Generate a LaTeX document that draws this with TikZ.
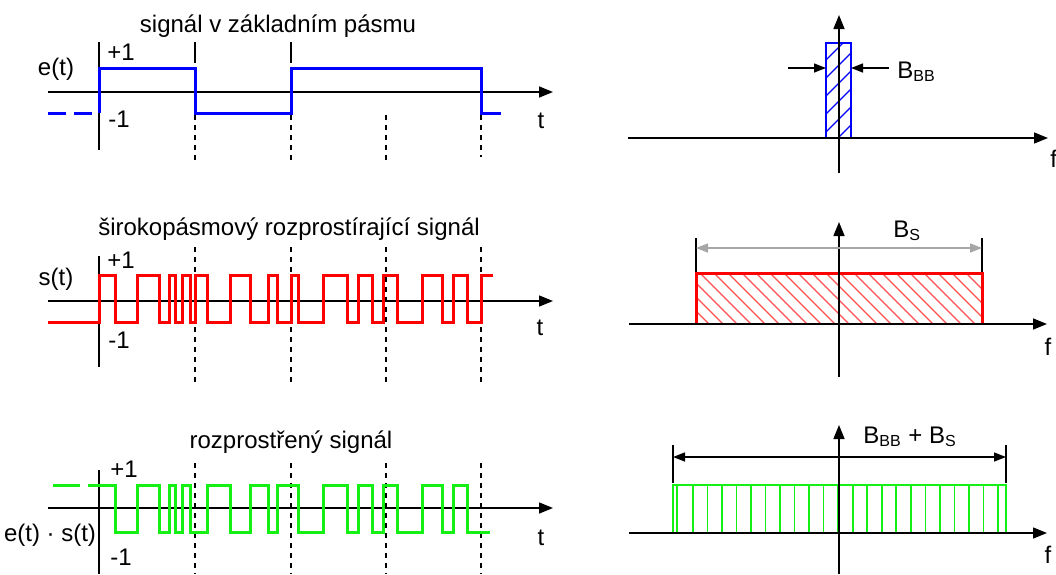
\documentclass[tikz,border=0pt]{standalone}
\usepackage{fontspec}
\setmainfont{Liberation Sans}
\usetikzlibrary{arrows.meta}

\definecolor{sigblue}{RGB}{0,0,255}
\definecolor{sigred}{RGB}{255,0,0}
\definecolor{siggreen}{RGB}{20,240,20}
\definecolor{hatchred}{RGB}{255,80,80}

\tikzset{
  axis/.style={line width=0.75pt, -{Triangle[length=7pt,width=5.5pt]}},
  dimline/.style={line width=0.7pt, {Triangle[length=6pt,width=4.5pt]}-{Triangle[length=6pt,width=4.5pt]}},
  dimarrow/.style={line width=0.7pt, -{Triangle[length=6pt,width=4.5pt]}},
  gridline/.style={line width=0.6pt, dash pattern=on 2.5pt off 2.5pt},
  wave/.style={line width=1.5pt, line join=miter},
  lbl/.style={inner sep=0pt, anchor=base, font=\fontsize{12}{14}\selectfont},
  lblw/.style={lbl, anchor=base west},
}

\begin{document}
\begin{tikzpicture}[x=0.5pt, y=-0.5pt]
    \useasboundingbox (0,0) rectangle (1056,574);

    % signal in base band
    \node[lbl] (title1) at (278,32) {signál v základním pásmu};
    \node[lbl] (et) at (56,75) {e(t)};
    \node[lblw] (p1a) at (107,60) {+1};
    \node[lblw] (m1a) at (108,127) {-1};
    \node[lbl] (ta) at (541,128) {t};
    \draw[axis] (48,92) -- (553,92);
    \draw[line width=0.75pt] (99,42) -- (99,150);
    \draw[line width=0.75pt] (195,42) -- (195,63);
    \draw[line width=0.75pt] (291,42) -- (291,63);
    \foreach \x/\yb in {195/163, 291/163, 386/163, 481/157}
        \draw[gridline] (\x,115) -- (\x,\yb);
    \draw[sigblue, wave, dash pattern=on 9pt off 4pt] (48,113) -- (99,113);
    \draw[sigblue, wave] (99,113) -- (99,68) -- (195,68) -- (195,113) -- (291,113)
        -- (291,68) -- (481,68) -- (481,113) -- (501,113);

    % spreading signal
    \node[lbl] (title2) at (289,235) {širokopásmový rozprostírající signál};
    \node[lbl] (st) at (56,285) {s(t)};
    \node[lblw] (p1b) at (107,268) {+1};
    \node[lblw] (m1b) at (108,348) {-1};
    \node[lbl] (tb) at (540,335) {t};
    \foreach \x in {195, 291, 386, 481}
        \draw[gridline] (\x,247) -- (\x,383);
    \draw[axis] (48,301) -- (553,301);
    \draw[line width=0.75pt] (99,256) -- (99,367);
    \draw[sigred, wave] (48,322) -- (99,322) -- (99,275) -- (115,275) -- (115,322)
        -- (137,322) -- (137,275) -- (159,275) -- (159,322) -- (169,322) -- (169,275)
        -- (175,275) -- (175,322) -- (182,322) -- (182,275) -- (190,275) -- (190,322)
        -- (195,322) -- (195,275) -- (207,275) -- (207,322) -- (230,322) -- (230,275)
        -- (250,275) -- (250,322) -- (268,322) -- (268,275) -- (277,275) -- (277,322)
        -- (291,322) -- (291,275) -- (298,275) -- (298,322) -- (323,322) -- (323,275)
        -- (347,275) -- (347,322) -- (358,322) -- (358,275) -- (372,275) -- (372,322)
        -- (383,322) -- (383,275) -- (397,275) -- (397,322) -- (422,322) -- (422,275)
        -- (442,275) -- (442,322) -- (453,322) -- (453,275) -- (467,275) -- (467,322)
        -- (481,322) -- (481,275) -- (493,275);

    % spread signal
    \node[lbl] (title3) at (291,448) {rozprostřený signál};
    \node[lbl] (est) at (50,541) {e(t) · s(t)};
    \node[lblw] (p1c) at (110,477) {+1};
    \node[lblw] (m1c) at (110,565) {-1};
    \node[lbl] (tc) at (541,545) {t};
    \foreach \x in {195, 291, 386, 481}
        \draw[gridline] (\x,463) -- (\x,574);
    \draw[axis] (48,508) -- (553,508);
    \draw[line width=0.75pt] (99,470) -- (99,574);
    \draw[siggreen, wave, dash pattern=on 13.5pt off 4pt] (53,485) -- (88,485);
    \draw[siggreen, wave] (88,485) -- (115,485) -- (115,532) -- (137,532) -- (137,485)
        -- (159,485) -- (159,532) -- (169,532) -- (169,485) -- (175,485) -- (175,532)
        -- (182,532) -- (182,485) -- (190,485) -- (190,532) -- (207,532) -- (207,485)
        -- (230,485) -- (230,532) -- (250,532) -- (250,485) -- (268,485) -- (268,532)
        -- (277,532) -- (277,485) -- (298,485) -- (298,532) -- (323,532) -- (323,485)
        -- (347,485) -- (347,532) -- (358,532) -- (358,485) -- (372,485) -- (372,532)
        -- (383,532) -- (383,485) -- (397,485) -- (397,532) -- (422,532) -- (422,485)
        -- (442,485) -- (442,532) -- (453,532) -- (453,485) -- (467,485) -- (467,532)
        -- (490,532);

    % spectrum of e(t)
    \begin{scope}
        \clip (826,43) rectangle (851,138);
        \foreach \k in {0,...,8}
            \draw[sigblue, line width=0.55pt] (826,150-18*\k) -- ++(30,-30);
    \end{scope}
    \draw[sigblue, line width=1pt] (826,138) -- (826,43) -- (851,43) -- (851,138);
    \draw[axis] (628,138) -- (1048,138);
    \draw[axis] (839,173) -- (839,15);
    \coordinate (bbl) at (788,68);
    \coordinate (bbr) at (889,68);
    \coordinate (bbla) at (826,68);
    \coordinate (bbra) at (851,68);
    \draw[dimarrow] (bbl) -- (bbla);
    \draw[dimarrow] (bbr) -- (bbra);
    \node[lblw] (bbb) at (897,78) {B\textsubscript{BB}};
    \node[lblw] (fa) at (1050,167) {f};

    % spectrum of s(t)
    \begin{scope}
        \clip (696,273) rectangle (982,324);
        \foreach \k in {0,...,25}
            \draw[hatchred, line width=0.6pt] (644+14*\k,273) -- ++(51,51);
    \end{scope}
    \draw[sigred, line width=1.5pt] (696,324) -- (696,273) -- (982,273) -- (982,324);
    \draw[axis] (629,324) -- (1047,324);
    \draw[axis] (839,377) -- (839,222);
    \coordinate (bsl) at (696,248);
    \coordinate (bsr) at (982,248);
    \draw[line width=0.6pt] (696,238) -- (696,272);
    \draw[line width=0.6pt] (982,238) -- (982,272);
    \draw[dimline, draw=gray!70] (bsl) -- (bsr);
    \node[lblw] (bs) at (893,237) {B\textsubscript{S}};
    \node[lbl] (fb) at (1048,355) {f};

    % spectrum of e(t) s(t)
    \draw[siggreen, line width=0.8pt] (677,485) -- (677,533);
    \foreach \k in {0,...,21}
        \draw[siggreen, line width=0.8pt] ({693+14.52*\k},485) -- ++(0,48);
    \draw[siggreen, line width=1pt] (673,533) -- (673,485) -- (1006,485) -- (1006,533);
    \draw[axis] (629,533) -- (1047,533);
    \draw[axis] (839,574) -- (839,425);
    \coordinate (bcl) at (673,457);
    \coordinate (bcr) at (1006,457);
    \draw[line width=0.6pt] (673,445) -- (673,483);
    \draw[line width=0.6pt] (1006,445) -- (1006,483);
    \draw[dimline] (bcl) -- (bcr);
    \node[lblw] (bbs) at (863,443) {B\textsubscript{BB} + B\textsubscript{S}};
    \node[lbl] (fc) at (1048,563) {f};
\end{tikzpicture}
\end{document}
